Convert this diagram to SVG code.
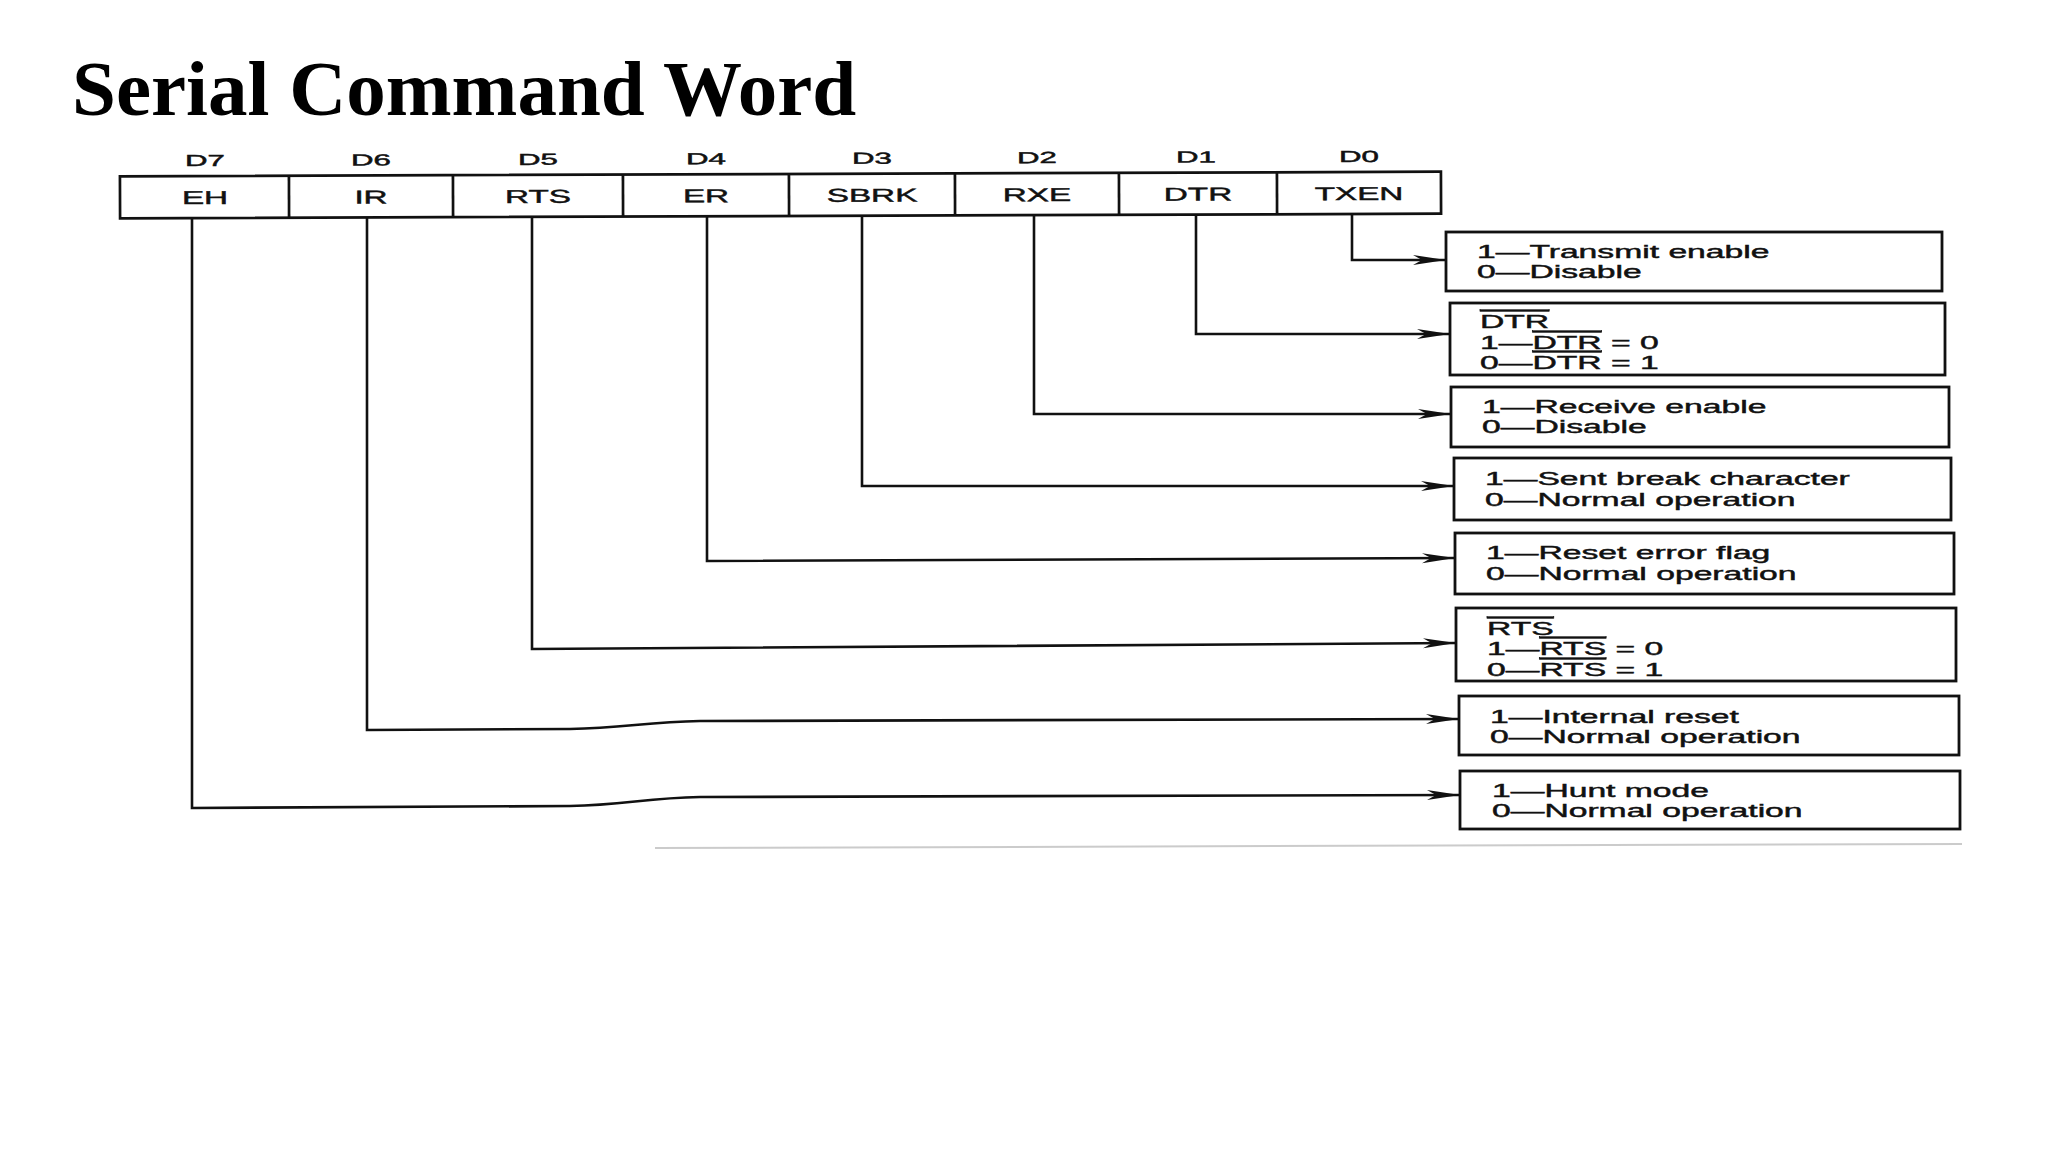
<svg xmlns="http://www.w3.org/2000/svg" width="2048" height="1152" viewBox="0 0 2048 1152">
<defs>
<style>
.title{font-family:"Liberation Serif","Times New Roman",serif;font-weight:bold;font-size:79px;fill:#000}
.t{font-family:"Liberation Sans",Arial,sans-serif;font-size:18.5px;fill:#111;stroke:#111;stroke-width:0.45}
.bit{font-family:"Liberation Sans",Arial,sans-serif;font-size:16px;fill:#111;stroke:#111;stroke-width:0.45;text-anchor:middle}
.cell{font-family:"Liberation Sans",Arial,sans-serif;font-size:18.5px;fill:#111;stroke:#111;stroke-width:0.45;text-anchor:middle}
.reg{fill:#fff;stroke:#111;stroke-width:2.7}
.div{stroke:#111;stroke-width:2.7}
.conn path{fill:none;stroke:#111;stroke-width:2.6}
.box rect{fill:#fff;stroke:#111;stroke-width:2.8}
.ov{text-decoration:overline}
</style>
<marker id="arr" markerUnits="userSpaceOnUse" markerWidth="40" markerHeight="14" viewBox="-36 -7 38 14" refX="0" refY="0" orient="auto">
<path d="M0,0 L-33,-5 L-24,0 L-33,5 Z" fill="#111"/>
</marker>
</defs>
<rect width="2048" height="1152" fill="#fff"/>
<text class="title" x="72" y="115">Serial Command Word</text>

<g id="register" transform="rotate(-0.2 780 195)">
<rect class="reg" x="120" y="174" width="1321" height="42"/>
<line class="div" x1="289" y1="174" x2="289" y2="216"/>
<line class="div" x1="453" y1="174" x2="453" y2="216"/>
<line class="div" x1="623" y1="174" x2="623" y2="216"/>
<line class="div" x1="789" y1="174" x2="789" y2="216"/>
<line class="div" x1="955" y1="174" x2="955" y2="216"/>
<line class="div" x1="1119" y1="174" x2="1119" y2="216"/>
<line class="div" x1="1277" y1="174" x2="1277" y2="216"/>
<g transform="translate(205,0) scale(1.95,1)"><text class="bit" x="0" y="164">D7</text></g>
<g transform="translate(371,0) scale(1.95,1)"><text class="bit" x="0" y="164">D6</text></g>
<g transform="translate(538,0) scale(1.95,1)"><text class="bit" x="0" y="164">D5</text></g>
<g transform="translate(706,0) scale(1.95,1)"><text class="bit" x="0" y="164">D4</text></g>
<g transform="translate(872,0) scale(1.95,1)"><text class="bit" x="0" y="164">D3</text></g>
<g transform="translate(1037,0) scale(1.95,1)"><text class="bit" x="0" y="164">D2</text></g>
<g transform="translate(1196,0) scale(1.95,1)"><text class="bit" x="0" y="164">D1</text></g>
<g transform="translate(1359,0) scale(1.95,1)"><text class="bit" x="0" y="164">D0</text></g>
<g transform="translate(205,0) scale(1.8,1)"><text class="cell" x="0" y="202">EH</text></g>
<g transform="translate(371,0) scale(1.8,1)"><text class="cell" x="0" y="202">IR</text></g>
<g transform="translate(538,0) scale(1.8,1)"><text class="cell" x="0" y="202">RTS</text></g>
<g transform="translate(706,0) scale(1.8,1)"><text class="cell" x="0" y="202">ER</text></g>
<g transform="translate(872,0) scale(1.8,1)"><text class="cell" x="0" y="202">SBRK</text></g>
<g transform="translate(1037,0) scale(1.8,1)"><text class="cell" x="0" y="202">RXE</text></g>
<g transform="translate(1198,0) scale(1.8,1)"><text class="cell" x="0" y="202">DTR</text></g>
<g transform="translate(1359,0) scale(1.8,1)"><text class="cell" x="0" y="202">TXEN</text></g>
</g>

<g id="connectors" class="conn">
<path d="M1352,213 V260 H1446" marker-end="url(#arr)"/>
<path d="M1196,214 V334 H1450" marker-end="url(#arr)"/>
<path d="M1034,214 V414 H1451" marker-end="url(#arr)"/>
<path d="M862,215 V486 H1454" marker-end="url(#arr)"/>
<path d="M707,216 V561 L1455,558" marker-end="url(#arr)"/>
<path d="M532,216 V649 L1456,643" marker-end="url(#arr)"/>
<path d="M367,217 V730 L570,729 C625,728 645,722 700,721 L1459,719" marker-end="url(#arr)"/>
<path d="M192,218 V808 L570,806 C625,805 645,798 700,797 L1460,795" marker-end="url(#arr)"/>
</g>

<g id="box-d0" class="box">
<rect x="1446" y="232" width="496" height="59"/>
<g transform="translate(1477,0) scale(1.82,1)"><text class="t" x="0" y="258">1—Transmit enable</text><text class="t" x="0" y="278">0—Disable</text></g>
</g>
<g id="box-d1" class="box">
<rect x="1450" y="303" width="495" height="72"/>
<g transform="translate(1480,0) scale(1.82,1)"><text class="t" x="0" y="328"><tspan class="ov">DTR</tspan></text><text class="t" x="0" y="349">1—<tspan class="ov">DTR</tspan> = 0</text><text class="t" x="0" y="369">0—<tspan class="ov">DTR</tspan> = 1</text></g>
</g>
<g id="box-d2" class="box">
<rect x="1451" y="387" width="498" height="60"/>
<g transform="translate(1482,0) scale(1.82,1)"><text class="t" x="0" y="413">1—Receive enable</text><text class="t" x="0" y="433">0—Disable</text></g>
</g>
<g id="box-d3" class="box">
<rect x="1454" y="458" width="497" height="62"/>
<g transform="translate(1485,0) scale(1.82,1)"><text class="t" x="0" y="485">1—Sent break character</text><text class="t" x="0" y="506">0—Normal operation</text></g>
</g>
<g id="box-d4" class="box">
<rect x="1455" y="533" width="499" height="61"/>
<g transform="translate(1486,0) scale(1.82,1)"><text class="t" x="0" y="559">1—Reset error flag</text><text class="t" x="0" y="580">0—Normal operation</text></g>
</g>
<g id="box-d5" class="box">
<rect x="1456" y="608" width="500" height="73"/>
<g transform="translate(1487,0) scale(1.82,1)"><text class="t" x="0" y="635"><tspan class="ov">RTS</tspan></text><text class="t" x="0" y="655">1—<tspan class="ov">RTS</tspan> = 0</text><text class="t" x="0" y="676">0—<tspan class="ov">RTS</tspan> = 1</text></g>
</g>
<g id="box-d6" class="box">
<rect x="1459" y="696" width="500" height="59"/>
<g transform="translate(1490,0) scale(1.82,1)"><text class="t" x="0" y="723">1—Internal reset</text><text class="t" x="0" y="743">0—Normal operation</text></g>
</g>
<g id="box-d7" class="box">
<rect x="1460" y="771" width="500" height="58"/>
<g transform="translate(1492,0) scale(1.82,1)"><text class="t" x="0" y="797">1—Hunt mode</text><text class="t" x="0" y="817">0—Normal operation</text></g>
</g>
<line x1="655" y1="848" x2="1962" y2="844" stroke="#aaa" stroke-width="2" opacity="0.6"/>
</svg>
